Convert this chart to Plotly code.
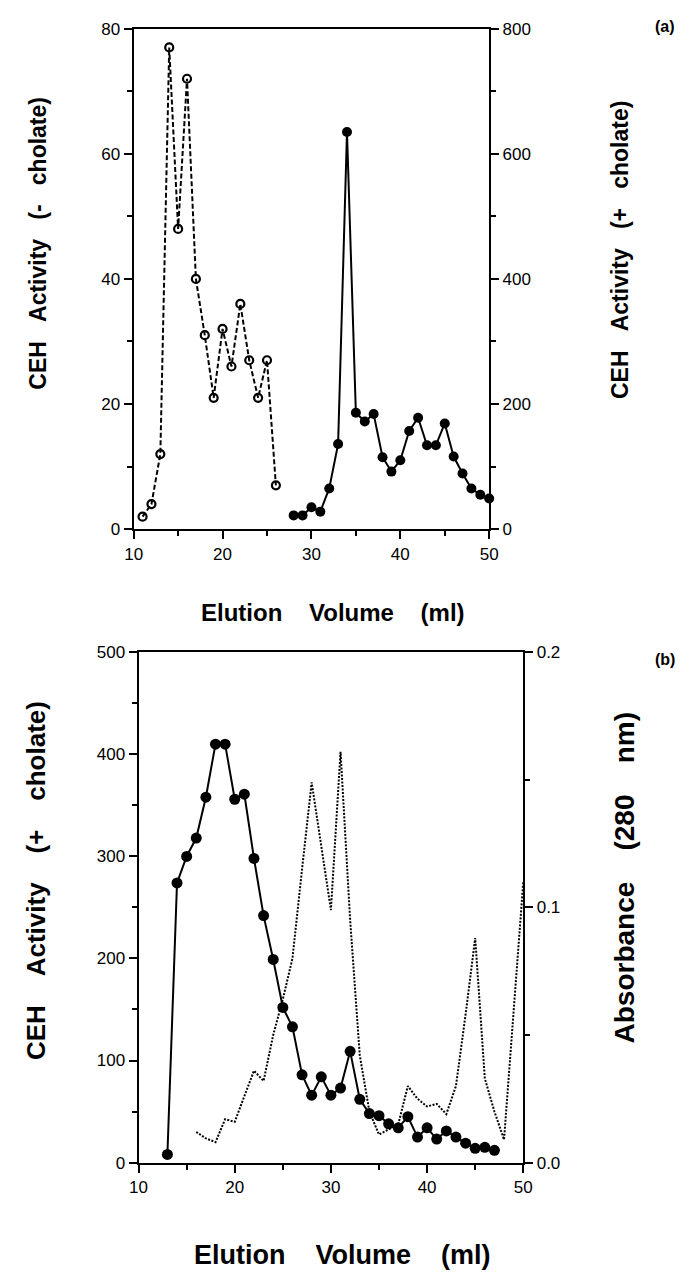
import plotly.graph_objects as go

# ---------------- Panel (a) data ----------------
a_minus_x = [11, 12, 13, 14, 15, 16, 17, 18, 19, 20, 21, 22, 23, 24, 25, 26]
a_minus_y = [2, 4, 12, 77, 48, 72, 40, 31, 21, 32, 26, 36, 27, 21, 27, 7]

a_plus_x = [28, 29, 30, 31, 32, 33, 34, 35, 36, 37, 38, 39, 40, 41, 42, 43, 44, 45, 46, 47, 48, 49, 50]
a_plus_y = [22, 22, 35, 28, 65, 136, 635, 186, 172, 184, 115, 92, 110, 157, 178, 134, 134, 169, 116, 89, 65, 55, 49]

# ---------------- Panel (b) data ----------------
b_plus_x = list(range(13, 48))
b_plus_y = [8, 274, 300, 318, 358, 410, 410, 356, 361, 298, 242, 199, 152, 133, 86, 66, 84, 66, 73, 109,
            62, 48, 46, 38, 34, 45, 25, 34, 23, 31, 25, 19, 14, 15, 12]

b_abs_x = list(range(16, 51))
b_abs_y = [0.012, 0.0095, 0.008, 0.017, 0.016, 0.026, 0.036, 0.032, 0.050, 0.064, 0.080, 0.115, 0.149,
           0.124, 0.099, 0.161, 0.095, 0.042, 0.020, 0.011, 0.013, 0.015, 0.030, 0.025, 0.022, 0.023,
           0.019, 0.030, 0.058, 0.088, 0.033, 0.020, 0.009, 0.058, 0.110]

# tick labels
x_ticks = [10, 20, 30, 40, 50]
ya_left_ticks = [0, 20, 40, 60, 80]
ya_right_ticks = [0, 200, 400, 600, 800]
yb_left_ticks = [0, 100, 200, 300, 400, 500]
yb_right_ticks = [0.0, 0.1, 0.2]

W, H = 693, 1277
def px(x):
    return x / W
def py(y):
    return 1 - y / H

FONT = "Liberation Sans, Arial, Helvetica, sans-serif"
tick_a = dict(family=FONT, size=17, color="black")
tick_b = dict(family=FONT, size=17, color="black")
S3 = "\u00a0\u00a0\u00a0"
S4 = "\u00a0\u00a0\u00a0\u00a0"

fig = go.Figure()

fig.add_trace(go.Scatter(
    x=a_minus_x, y=a_minus_y, xaxis="x", yaxis="y", mode="lines+markers",
    line=dict(color="black", width=2, dash="5px,2.5px"),
    marker=dict(symbol="circle-open", size=8, color="black", line=dict(width=2.2)),
    cliponaxis=False, showlegend=False))

fig.add_trace(go.Scatter(
    x=a_plus_x, y=a_plus_y, xaxis="x", yaxis="y2", mode="lines+markers",
    line=dict(color="black", width=2),
    marker=dict(symbol="circle", size=10, color="black"),
    cliponaxis=False, showlegend=False))

fig.add_trace(go.Scatter(
    x=b_abs_x, y=b_abs_y, xaxis="x2", yaxis="y4", mode="lines",
    line=dict(color="black", width=2, dash="2px,1.5px"),
    cliponaxis=False, showlegend=False))

fig.add_trace(go.Scatter(
    x=b_plus_x, y=b_plus_y, xaxis="x2", yaxis="y3", mode="lines+markers",
    line=dict(color="black", width=2),
    marker=dict(symbol="circle", size=11, color="black"),
    cliponaxis=False, showlegend=False))

axis_common = dict(showline=True, linecolor="black", linewidth=2, ticks="outside",
                   tickcolor="black", tickwidth=2, ticklen=8, showgrid=False, zeroline=False)

dom_xa = [px(128), px(493)]
dom_ya = [py(528), py(20)]
dom_xb = [px(133), px(528)]
dom_yb = [py(1171), py(653)]

def minor(d, **kw):
    return dict(dtick=d, ticks="outside", ticklen=5, tickcolor="black", tickwidth=2, **kw)

fig.update_layout(
    width=W, height=H, margin=dict(l=0, r=0, t=0, b=0),
    paper_bgcolor="white", plot_bgcolor="white",
    xaxis=dict(domain=dom_xa, anchor="y", range=[10, 50], tickvals=x_ticks, mirror=True,
               minor=minor(5, tick0=10), tickfont=tick_a, **axis_common),
    yaxis=dict(domain=dom_ya, anchor="x", range=[0, 80], tickvals=ya_left_ticks,
               minor=minor(10), tickfont=tick_a, **axis_common),
    yaxis2=dict(overlaying="y", anchor="x", side="right", range=[0, 800], tickvals=ya_right_ticks,
                minor=minor(100), tickfont=tick_a, **axis_common),
    xaxis2=dict(domain=dom_xb, anchor="y3", range=[10, 50], tickvals=x_ticks, mirror=True,
                minor=minor(5, tick0=10), tickfont=tick_b, **axis_common),
    yaxis3=dict(domain=dom_yb, anchor="x2", range=[0, 500], tickvals=yb_left_ticks,
                minor=minor(50), tickfont=tick_b, **axis_common),
    yaxis4=dict(overlaying="y3", anchor="x2", side="right", range=[0, 0.2], tickvals=yb_right_ticks,
                tickformat=".1f", minor=minor(0.05), tickfont=tick_b, **axis_common),
)

ann = [
    dict(text="CEH" + S3 + "Activity" + S3 + "(-" + S3 + "cholate)", x=px(30), y=py(238), textangle=-90, size=23),
    dict(text="CEH" + S3 + "Activity" + S3 + "(+" + S3 + "cholate)", x=px(628), y=py(245), textangle=-90, size=23),
    dict(text="Elution" + S4 + "Volume" + S4 + "(ml)", x=px(333), y=py(613), textangle=0, size=24),
    dict(text="CEH" + S4 + "Activity" + S4 + "(+" + S4 + "cholate)", x=px(28), y=py(885), textangle=-90, size=26),
    dict(text="Absorbance" + S4 + "(280" + S4 + "nm)", x=px(632), y=py(882), textangle=-90, size=28),
    dict(text="Elution" + S4 + "Volume" + S4 + "(ml)", x=px(342), y=py(1265), textangle=0, size=27),
]
for a in ann:
    size = a.pop("size")
    a["text"] = "<b>" + a["text"] + "</b>"
    fig.add_annotation(xref="paper", yref="paper", showarrow=False,
                       font=dict(family=FONT, size=size, color="black"),
                       xanchor="center", yanchor="middle", **a)

for lab, yy in [("(a)", 18), ("(b)", 660)]:
    fig.add_annotation(xref="paper", yref="paper", showarrow=False, text="<b>" + lab + "</b>",
                       font=dict(family=FONT, size=16, color="black"),
                       x=px(674), y=py(yy), xanchor="center", yanchor="middle")

fig.write_html("out.html")
